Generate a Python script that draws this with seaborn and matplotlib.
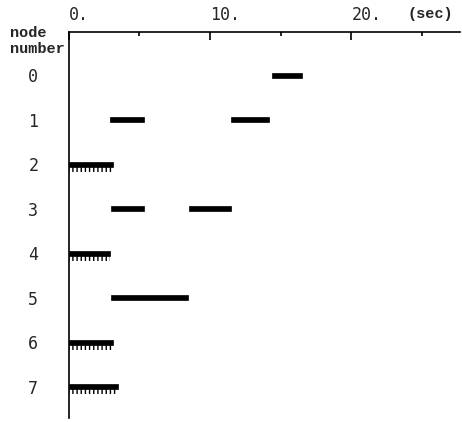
import numpy as np
import pandas as pd
import seaborn as sns
import matplotlib.pyplot as plt

# busy periods per node (seconds)
seg_node  = [0,    1,    1,    2,   3,   3,   4,   5,   6,   7]
seg_start = [14.4, 2.9,  11.5, 0.0, 3.0, 8.5, 0.0, 3.0, 0.0, 0.0]
seg_end   = [16.5, 5.3,  14.2, 3.1, 5.3, 11.5, 2.9, 8.4, 3.1, 3.5]
seg_ticked = [False, False, False, True, False, False, True, False, True, True]

nodes = list(range(8))
x_ticks = [0, 10, 20]
x_labels = ["0.", "10.", "20."]

df = pd.DataFrame({"node": seg_node, "start": seg_start, "end": seg_end,
                   "ticked": seg_ticked})
df["width"] = df["end"] - df["start"]

sns.set_theme(style="white")
plt.rcParams["font.family"] = ["DejaVu Sans Mono"]

fig = plt.figure(figsize=(4.62, 4.22), dpi=100)
ax = fig.add_axes([0.149, 0.0095, 0.847, 0.9145])

ax.barh(df["node"], df["width"], left=df["start"], height=0.11,
        color="black", edgecolor="black", linewidth=0.5)
tk = df[df["ticked"]]
ax.barh(tk["node"] + 0.1, tk["width"], left=tk["start"], height=0.14,
        color="none", edgecolor="black", hatch="||||", linewidth=0)

ax.set_xlim(0, 27.7)
ax.set_ylim(7.7, -0.965)

for s in ["right", "bottom"]:
    ax.spines[s].set_visible(False)
for s in ["top", "left"]:
    ax.spines[s].set_color("black")
    ax.spines[s].set_linewidth(1.2)

ax.xaxis.tick_top()
ax.set_xticks(x_ticks)
ax.set_xticklabels(x_labels, fontsize=12, ha="left")
ax.set_xticks([5, 15, 25], minor=True)
ax.tick_params(axis="x", which="major", direction="in", length=6, width=1.2,
               pad=6, top=True, bottom=False, color="black")
ax.tick_params(axis="x", which="minor", direction="in", length=3, width=1.2,
               top=True, bottom=False, color="black")
ax.set_yticks(nodes)
ax.set_yticklabels([str(n) for n in nodes], fontsize=12)
ax.tick_params(axis="y", length=0, pad=22)

fig.text(0.022, 0.922, "node", fontsize=11, fontweight="bold",
         family=["Liberation Mono"], va="center")
fig.text(0.022, 0.884, "number", fontsize=11, fontweight="bold",
         family=["Liberation Mono"], va="center")
fig.text(0.883, 0.966, "(sec)", fontsize=11, fontweight="bold",
         family=["Liberation Mono"], va="center")

fig.savefig("out.png", dpi=100)
